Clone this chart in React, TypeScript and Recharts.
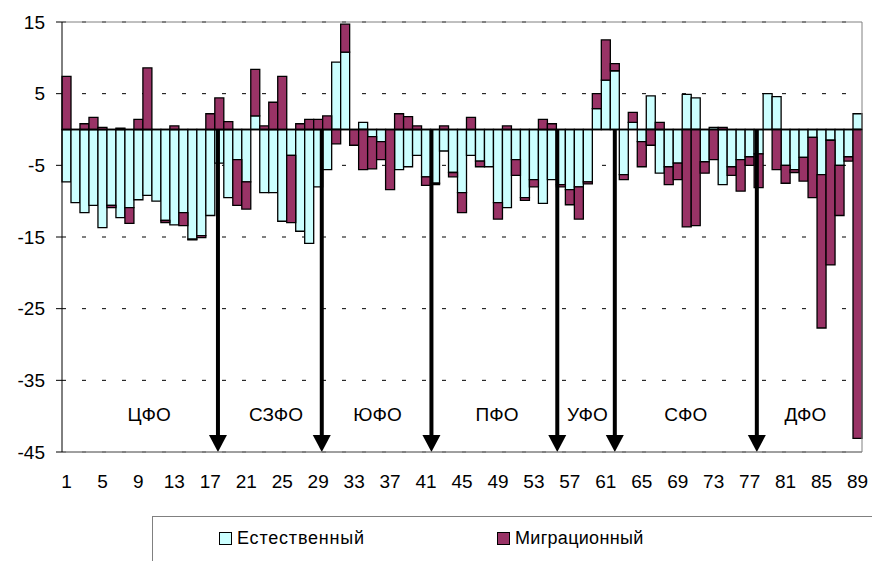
import {
  BarChart,
  Bar,
  XAxis,
  YAxis,
  CartesianGrid,
  ReferenceLine,
} from "recharts";

const natural = [
  -7.3, -10.2, -11.6, -10.6, -13.7, -10.6, -12.3, -10.9, -9.8, -9.2,
  -10.0, -12.7, -13.3, -11.6, -15.3, -14.8, -12.0, -4.7, -9.5, -4.2,
  -7.3, 1.9, -8.8, -8.8, -12.8, -3.6, -14.2, -15.9, -8.0, -5.6,
  9.4, 10.8, 0, 1.0, -1.0, -1.7, 0, -5.6, -5.2, -3.6,
  -6.6, -7.5, -3.0, -6.0, -8.8, -3.6, -4.4, -5.2, -10.2, -10.9,
  -4.2, -9.5, -7.0, -10.3, -7.0, -7.7, -8.4, -8.0, -7.3, 2.9,
  6.9, 8.2, -6.3, 1.0, -1.7, 4.7, -6.1, -5.2, -4.7, 4.9,
  4.4, -4.5, 0.3, -7.7, -5.2, -4.2, -3.8, -3.4, 5.0, 4.6,
  -5.0, -5.6, -3.9, -1.1, -6.3, -1.5, -5.0, -3.8, 2.2,
];

const migration = [
  7.4, 0, 0.8, 1.7, 0.3, -0.3, 0.2, -2.2, 1.4, 8.6,
  0, -0.3, 0.5, -1.8, -0.1, -0.3, 2.2, 4.4, 1.1, -6.4,
  -3.8, 6.5, 0.5, 3.8, 7.4, -9.4, 0.8, 1.4, 1.4, 1.9,
  -2.0, 3.9, -2.2, -5.6, -4.5, -2.5, -8.4, 2.2, 1.8, 0.5,
  -1.2, -0.2, 0.5, -0.6, -2.8, 1.7, -0.8, 0, -2.3, 0.5,
  -2.2, -0.4, -1.0, 1.4, 0.8, -0.3, -2.1, -4.5, -0.3, 2.1,
  5.6, 1.0, -0.7, 1.4, -3.5, -2.2, 1.0, -2.5, -2.3, -13.6,
  -13.4, -1.6, -4.2, 0.3, -1.2, -4.4, -1.2, -4.7, 0, -5.6,
  -2.5, -0.4, -3.3, -8.4, -21.4, -17.4, -7.0, -0.6, -43.1,
];

const yTicks = [15, 5, -5, -15, -25, -35, -45];

// federal districts: label position (in region numbers) and boundary arrows
const districts = ["ЦФО", "СЗФО", "ЮФО", "ПФО", "УФО", "СФО", "ДФО"];
const districtCenters = [10.2, 24.3, 35.6, 48.9, 58.95, 69.9, 83.2];
const arrowsAt = [17.85, 29.4, 41.6, 55.6, 62.0, 77.8];

const data = natural.map((n, i) => ({
  id: i + 1,
  natural: n,
  migration: migration[i],
}));

const N = natural.length;
const FONT = "'Liberation Sans', Arial, sans-serif";

// a fractional region position -> two neighbouring categories + fraction
const split = (v: number) => {
  const a = Math.min(Math.floor(v), N - 1);
  return { a, b: a + 1, f: v - a };
};

const arrowShape = (f: number) => (p: any) => {
  const x = p.x1 + f * (p.x2 - p.x1);
  const { y1, y2 } = p;
  return (
    <g>
      <line x1={x} y1={y1} x2={x} y2={y2 - 16} stroke="#000" strokeWidth={4} />
      <polygon points={`${x - 9},${y2 - 17} ${x + 9},${y2 - 17} ${x},${y2}`} fill="#000" />
    </g>
  );
};

const textShape = (f: number, label: string) => (p: any) => (
  <text
    x={p.x1 + f * (p.x2 - p.x1)}
    y={p.y1}
    textAnchor="middle"
    dominantBaseline="central"
    fontSize={19}
    fontFamily={FONT}
    fill="#000"
  >
    {label}
  </text>
);

const edgeShape = (f: number) => (p: any) => {
  const x = p.x1 + f * (p.x2 - p.x1);
  return <line x1={x} y1={p.y1} x2={x} y2={p.y2} stroke="#808080" strokeWidth={1} />;
};

export default function App() {
  const edge = split(N + 0.5);
  return (
    <div
      style={{
        position: "absolute",
        left: 0,
        top: 0,
        width: 872,
        height: 561,
        background: "#fff",
        fontFamily: FONT,
        overflow: "hidden",
      }}
    >
      <BarChart
        width={872}
        height={561}
        data={data}
        stackOffset="sign"
        barCategoryGap={0}
        margin={{ top: 22, right: 10, left: 0, bottom: 79 }}
      >
        <CartesianGrid vertical={false} stroke="#000" strokeDasharray="4 16" />
        <XAxis
          dataKey="id"
          interval={3}
          height={30}
          axisLine={{ stroke: "#808080" }}
          tickLine={false}
          tickMargin={17}
          tick={{ fill: "#000", fontSize: 19, fontFamily: FONT }}
        />
        <YAxis
          type="number"
          domain={[-45, 15]}
          ticks={yTicks}
          interval={0}
          width={62}
          axisLine={{ stroke: "#000" }}
          tickLine={{ stroke: "#000" }}
          tickSize={6}
          tickMargin={11}
          tick={{ fill: "#000", fontSize: 19, fontFamily: FONT }}
        />
        <Bar
          dataKey="natural"
          stackId="a"
          fill="#CCFFFF"
          stroke="#000"
          strokeWidth={1.3}
          isAnimationActive={false}
        />
        <Bar
          dataKey="migration"
          stackId="a"
          fill="#993366"
          stroke="#000"
          strokeWidth={1.3}
          isAnimationActive={false}
        />
        <ReferenceLine y={15} stroke="#808080" />
        <ReferenceLine y={-45} stroke="#808080" />
        <ReferenceLine
          segment={[
            { x: edge.a, y: 15 },
            { x: edge.b, y: -45 },
          ]}
          shape={edgeShape(edge.f)}
        />
        <ReferenceLine y={0} stroke="#000" strokeWidth={1.3} />
        {arrowsAt.map((v) => {
          const s = split(v);
          return (
            <ReferenceLine
              key={v}
              segment={[
                { x: s.a, y: 0 },
                { x: s.b, y: -45 },
              ]}
              shape={arrowShape(s.f)}
            />
          );
        })}
        {districts.map((name, i) => {
          const s = split(districtCenters[i]);
          return (
            <ReferenceLine
              key={name}
              segment={[
                { x: s.a, y: -39.7 },
                { x: s.b, y: -39.7 },
              ]}
              shape={textShape(s.f, name)}
            />
          );
        })}
      </BarChart>
      <div
        style={{
          position: "absolute",
          left: 152,
          top: 516,
          width: 740,
          height: 70,
          border: "1px solid #808080",
          boxSizing: "border-box",
          fontSize: 18,
          color: "#000",
        }}
      >
        <div style={{ position: "absolute", left: 66, top: 11, display: "flex", alignItems: "center" }}>
          <span style={{ width: 11, height: 11, background: "#CCFFFF", border: "1px solid #000", marginRight: 5 }} />
          <span style={{ letterSpacing: 0.8 }}>Естественный</span>
        </div>
        <div style={{ position: "absolute", left: 344, top: 11, display: "flex", alignItems: "center" }}>
          <span style={{ width: 11, height: 11, background: "#993366", border: "1px solid #000", marginRight: 5 }} />
          <span style={{ letterSpacing: 0.3 }}>Миграционный</span>
        </div>
      </div>
    </div>
  );
}
